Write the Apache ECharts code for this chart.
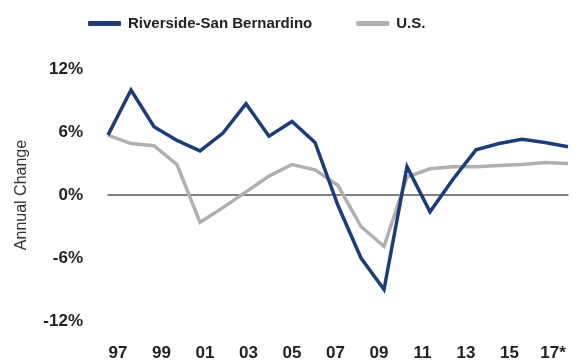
<!DOCTYPE html>
<html>
<head>
<meta charset="utf-8">
<script src="https://cdn.jsdelivr.net/npm/echarts@6/dist/echarts.min.js"></script>
<style>
  html, body { margin: 0; padding: 0; background: #fff; }
  #chart { width: 581px; height: 364px; }
</style>
</head>
<body>
<div id="chart"></div>
<script>
// Annual employment change, 1997–2017 (2017 forecast)
const years = ['1997', '1998', '1999', '2000', '2001', '2002', '2003', '2004', '2005', '2006',
               '2007', '2008', '2009', '2010', '2011', '2012', '2013', '2014', '2015', '2016', '2017'];
const riverside = [5.7, 10.0, 6.5, 5.2, 4.2, 5.9, 8.7, 5.6, 7.0, 5.0,
                   -1.0, -6.0, -9.0, 2.7, -1.6, 1.5, 4.3, 4.9, 5.3, 5.0, 4.6];
const us = [5.7, 4.9, 4.7, 2.9, -2.6, -1.2, 0.3, 1.8, 2.9, 2.4,
            0.9, -3.0, -4.9, 1.7, 2.5, 2.7, 2.7, 2.8, 2.9, 3.1, 3.0];
const yearTickLabels = ['97', '99', '01', '03', '05', '07', '09', '11', '13', '15', '17*'];
const yMin = -12, yMax = 12, yStep = 6;

const FONT = '"Liberation Sans", Arial, Helvetica, sans-serif';
const NAVY = '#1d3d7a';
const GREY = '#b0b0b0';

const chart = echarts.init(document.getElementById('chart'), null, { renderer: 'canvas' });

chart.setOption({
  animation: false,
  backgroundColor: '#ffffff',
  textStyle: { fontFamily: FONT },
  legend: {
    data: ['Riverside-San Bernardino', 'U.S.'],
    left: 88,
    top: 16,
    padding: 0,
    icon: 'roundRect',
    itemWidth: 33,
    itemHeight: 5,
    itemGap: 44,
    textStyle: { fontFamily: FONT, fontSize: 15, fontWeight: 'bold', color: '#222', padding: [0, 0, 0, 2] }
  },
  grid: [
    { left: 108, right: 13, top: 69, bottom: 43 },
    // strip used only for the year labels along the bottom
    { left: 118, right: 28, top: 300, bottom: 20 }
  ],
  xAxis: [
    {
      type: 'category',
      gridIndex: 0,
      data: years,
      boundaryGap: false,
      axisLine: { onZero: true, lineStyle: { color: '#5a5a5a', width: 1.5 } },
      axisTick: { show: false },
      axisLabel: { show: false },
      splitLine: { show: false }
    },
    {
      type: 'category',
      gridIndex: 1,
      data: yearTickLabels,
      boundaryGap: false,
      axisLine: { show: false },
      axisTick: { show: false },
      splitLine: { show: false },
      axisLabel: {
        margin: 1,
        interval: 0,
        fontFamily: FONT,
        fontSize: 17,
        fontWeight: 'bold',
        color: '#222'
      }
    }
  ],
  yAxis: [
    {
      type: 'value',
      gridIndex: 0,
      min: yMin,
      max: yMax,
      interval: yStep,
      name: 'Annual Change',
      nameLocation: 'middle',
      nameRotate: 90,
      nameGap: 78,
      nameTextStyle: { fontFamily: FONT, fontSize: 16, color: '#333' },
      axisLine: { show: false },
      axisTick: { show: false },
      splitLine: { show: false },
      axisLabel: {
        margin: 25,
        fontFamily: FONT,
        fontSize: 17,
        fontWeight: 'bold',
        color: '#222',
        formatter: v => v + '%'
      }
    },
    { type: 'value', gridIndex: 1, show: false }
  ],
  series: [
    {
      name: 'U.S.',
      type: 'line',
      xAxisIndex: 0,
      yAxisIndex: 0,
      data: us,
      symbol: 'none',
      lineStyle: { color: GREY, width: 3.5, join: 'miter' },
      itemStyle: { color: GREY },
      z: 2
    },
    {
      name: 'Riverside-San Bernardino',
      type: 'line',
      xAxisIndex: 0,
      yAxisIndex: 0,
      data: riverside,
      symbol: 'none',
      lineStyle: { color: NAVY, width: 3.5, join: 'miter' },
      itemStyle: { color: NAVY },
      z: 3
    }
  ]
});
</script>
</body>
</html>
